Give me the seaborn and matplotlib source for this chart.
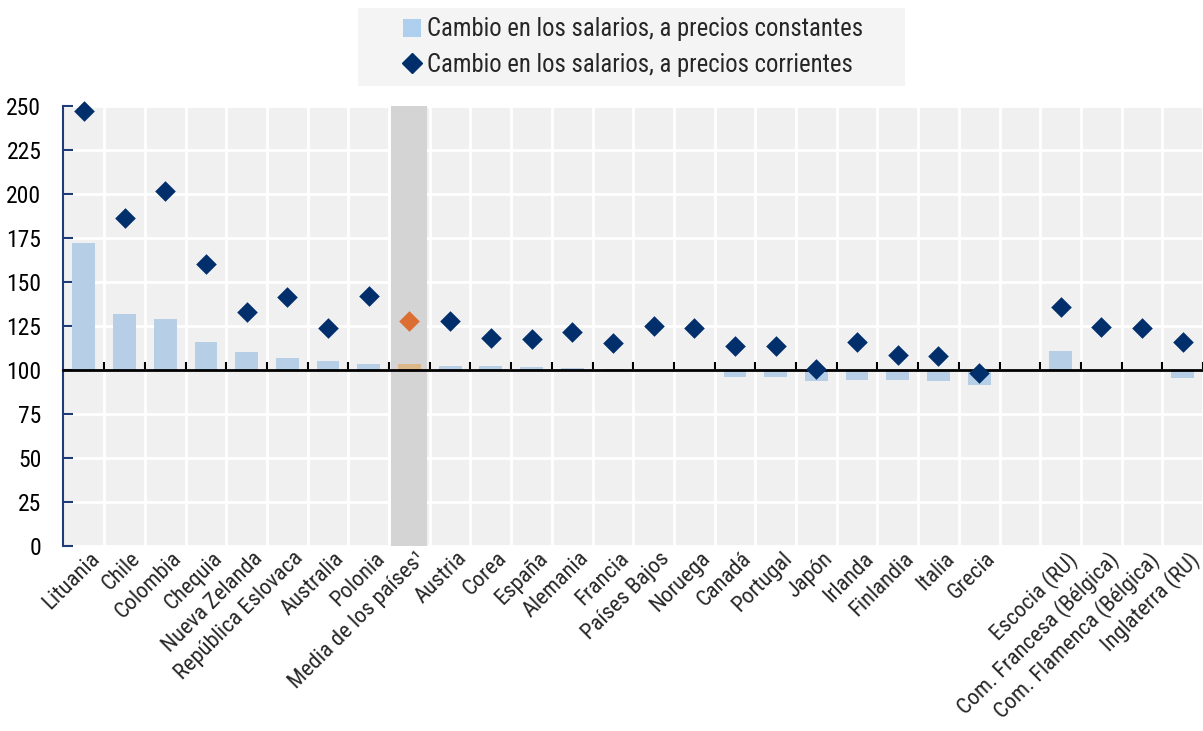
import numpy as np
import pandas as pd
import matplotlib
matplotlib.use("Agg")
import matplotlib.pyplot as plt
from matplotlib.patches import Patch, Rectangle
from matplotlib.lines import Line2D
import seaborn as sns

# ---- data ----
countries = ["Lituania", "Chile", "Colombia", "Chequia", "Nueva Zelanda",
             "República Eslovaca", "Australia", "Polonia", "Media de los países¹",
             "Austria", "Corea", "España", "Alemania", "Francia", "Países Bajos",
             "Noruega", "Canadá", "Portugal", "Japón", "Irlanda", "Finlandia",
             "Italia", "Grecia",
             "Escocia (RU)", "Com. Francesa (Bélgica)", "Com. Flamenca (Bélgica)",
             "Inglaterra (RU)"]
constant = [172, 132, 129, 116, 110, 107, 105.3, 103.4, 103.5,
            102.3, 102.3, 101.5, 101, 100.3, 100.2, 99.3, 96, 95.8, 94,
            94.1, 94.1, 93.8, 91.2,
            111, 100.2, 99.3, 95.2]
current = [247, 186.5, 201.5, 160, 133, 141.5, 124, 142, 128,
           128, 118.4, 117.8, 121.6, 115.2, 125, 124, 113.7, 113.8, 100.6,
           116, 108.5, 108, 98.3,
           136, 124.5, 124, 116]
average_name = "Media de los países¹"
gap_name = " "
order = countries[:23] + [gap_name] + countries[23:]
yticks = [0, 25, 50, 75, 100, 125, 150, 175, 200, 225, 250]
baseline = 100
legend_labels = ["Cambio en los salarios, a precios constantes",
                 "Cambio en los salarios, a precios corrientes"]

df = pd.DataFrame({"country": countries, "constant": constant, "current": current})
df["group"] = np.where(df["country"] == average_name, "avg", "country")
df["delta"] = df["constant"] - baseline

bar_pal = {"country": "#aecfee", "avg": "#e8b87c"}
pt_pal = {"country": "#002f6c", "avg": "#dc6e34"}

# ---- style ----
sns.set_theme(style="white")
plt.rcParams["font.family"] = ["Roboto Condensed", "Liberation Sans", "DejaVu Sans"]
FS = 17

fig = plt.figure(figsize=(12.03, 7.31), dpi=100)
W, H = 1203, 731
left, right, top, bottom = 63.5, 1203, 106, 546
ax = fig.add_axes([left / W, 1 - bottom / H, (right - left) / W, (bottom - top) / H])
ax.set_facecolor("#f0f0f0")

# highlight band for the average column
avg_pos = order.index(average_name)
ax.axvspan(avg_pos - 0.45, avg_pos + 0.43, color="#d4d4d4", zorder=0.8, lw=0)

sns.barplot(data=df, x="country", y="delta", hue="group", order=order,
            palette=bar_pal, dodge=False, width=0.56, bottom=baseline,
            legend=False, ax=ax, zorder=2, linewidth=0)
sns.stripplot(data=df, x="country", y="current", hue="group", order=order,
              palette=pt_pal, jitter=False, marker="D", size=10.5,
              linewidth=0, legend=False, ax=ax, zorder=4, clip_on=False)

n = len(order)
ax.set_xlim(-0.5, (right - 84) / 40.8)
ax.set_ylim(0, 250)
ax.set_xlabel("")
ax.set_ylabel("")

# x axis: spine at 100 with boundary ticks
ax.spines["bottom"].set_position(("data", baseline))
ax.spines["bottom"].set_color("black")
ax.spines["bottom"].set_linewidth(2)
ax.spines["bottom"].set_zorder(3)
ax.set_xticks(np.arange(n) + 0.5)
ax.tick_params(axis="x", which="major", direction="in", length=6, width=1.5,
               color="black", labelbottom=False, bottom=True)
ax.spines["top"].set_visible(False)
ax.spines["right"].set_visible(False)
ax.spines["left"].set_color("#1f3c78")
ax.spines["left"].set_linewidth(1.5)

ax.set_yticks(yticks)
ax.tick_params(axis="y", direction="in", length=7, width=1.5, color="#1f3c78",
               labelsize=FS, pad=16, labelcolor="black", left=True)

ax.grid(True, color="white", linewidth=2)
ax.set_axisbelow(True)

# category labels on a secondary axis at the bottom
sec = ax.secondary_xaxis(0)
sec.set_xticks(np.arange(n) + 0.14)
sec.set_xticklabels(order, rotation=45, ha="right", va="top",
                    rotation_mode="anchor", fontsize=16.2)
sec.tick_params(axis="x", length=0, pad=1.5)
sec.spines["bottom"].set_visible(False)

# legend with background box
fig.patches.append(Rectangle((358 / W, 1 - 86 / H), 547 / W, 78 / H,
                             transform=fig.transFigure, facecolor="#f4f4f4",
                             edgecolor="none", zorder=0))
handles = [Patch(facecolor=bar_pal["country"], edgecolor="none"),
           Line2D([], [], marker="D", color=pt_pal["country"], linestyle="none",
                  markersize=10.5)]
leg = fig.legend(handles, legend_labels, loc="center",
                 bbox_to_anchor=(633 / W, 1 - 47 / H), frameon=False,
                 fontsize=17.7, handlelength=0.75, handleheight=0.75,
                 handletextpad=0.25, borderpad=0, labelspacing=0.45,
                 borderaxespad=0)

fig.savefig("out.png", dpi=100)
